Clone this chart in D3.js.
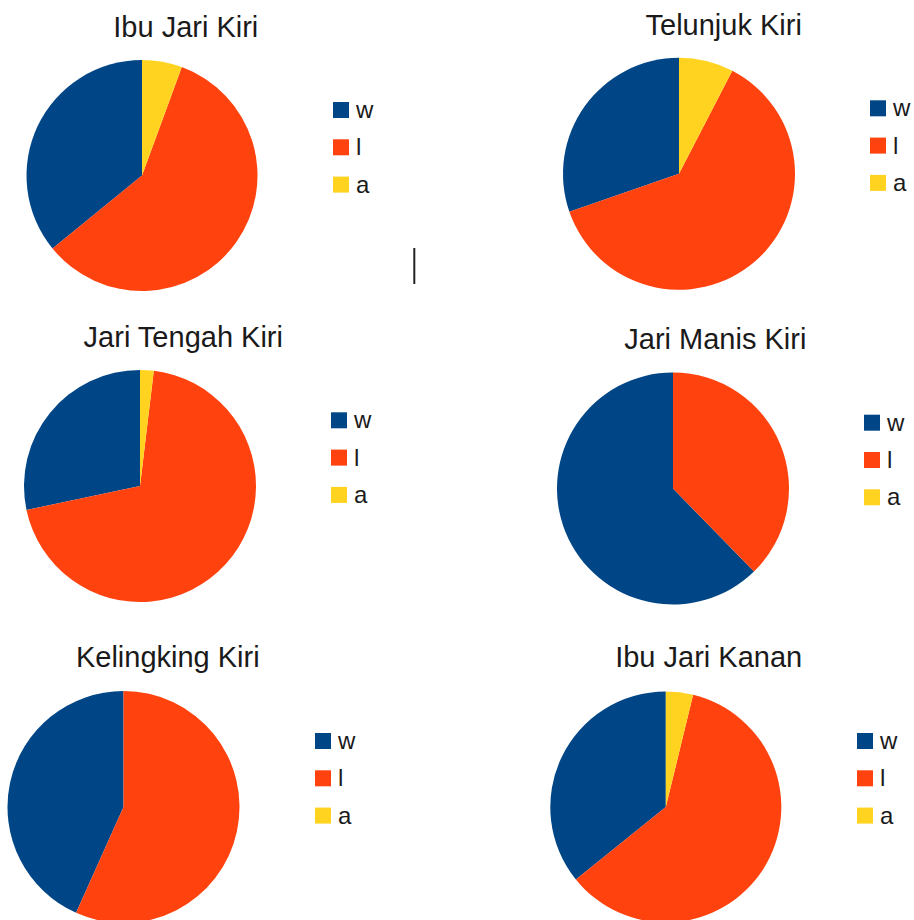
<!DOCTYPE html>
<html>
<head>
<meta charset="utf-8">
<script src="https://cdn.jsdelivr.net/npm/d3@7"></script>
<style>
  body { margin: 0; background: #fff; }
  text { font-family: "Liberation Sans", Arial, sans-serif; }
</style>
</head>
<body>
<div id="chart"></div>
<script>
// chart data
const titles = ["Ibu Jari Kiri", "Telunjuk Kiri", "Jari Tengah Kiri", "Jari Manis Kiri", "Kelingking Kiri", "Ibu Jari Kanan"];
const series = ["w", "l", "a"];
const wValues = [35.9, 30.3, 28.3, 62.3, 43.3, 35.8];
const lValues = [58.5, 62.1, 69.8, 37.7, 56.7, 60.4];
const aValues = [5.6, 7.6, 1.9, 0, 0, 3.8];

const colors = {w: "#004586", l: "#ff420e", a: "#ffd320"};

// where each panel sits on the page
const panels = [
    {cx: 142, cy: 175.5, r: 115.5, tx: 185.8, ty: 37, lx: 333, ly: 110},
    {cx: 679, cy: 173.8, r: 116, tx: 723.7, ty: 35, lx: 870, ly: 108.3},
    {cx: 140, cy: 486, r: 116, tx: 183.3, ty: 347.3, lx: 331, ly: 420.3},
    {cx: 673, cy: 488.5, r: 116, tx: 715.3, ty: 349.3, lx: 864, ly: 422.7},
    {cx: 123.5, cy: 807, r: 116, tx: 167.8, ty: 667.3, lx: 315, ly: 741},
    {cx: 665.8, cy: 807, r: 115.5, tx: 708.7, ty: 667.3, lx: 857, ly: 741}
];

const width = 914, height = 920;
const rowGap = 37.3;

const svg = d3.select("#chart")
    .append("svg")
        .attr("width", width)
        .attr("height", height);

// counter-clockwise from 12 o'clock, like the office chart
const pie = d3.pie()
    .sort(null)
    .startAngle(0)
    .endAngle(-2 * Math.PI)
    .value(d => d.value);

titles.forEach((title, i) => {
    const p = panels[i];
    const values = [wValues[i], lValues[i], aValues[i]];
    const data = series.map((s, k) => ({key: s, value: values[k]}));

    const g = svg.append("g");

    const arc = d3.arc().innerRadius(0).outerRadius(p.r);

    g.append("g")
        .attr("transform", `translate(${p.cx},${p.cy})`)
        .selectAll("path")
        .data(pie(data).filter(d => d.data.value > 0))
        .enter().append("path")
            .attr("d", arc)
            .attr("fill", d => colors[d.data.key]);

    g.append("text")
        .attr("x", p.tx)
        .attr("y", p.ty)
        .attr("text-anchor", "middle")
        .style("font-size", "29px")
        .attr("fill", "#1a1a1a")
        .text(title);

    // legend
    const legend = g.selectAll(".legend")
        .data(series)
        .enter().append("g")
            .attr("class", "legend")
            .attr("transform", (d, k) => `translate(${p.lx},${p.ly + k * rowGap})`);

    legend.append("rect")
        .attr("x", 0)
        .attr("y", -8)
        .attr("width", 16)
        .attr("height", 16)
        .attr("fill", d => colors[d]);

    legend.append("text")
        .attr("x", 23)
        .attr("y", 8)
        .style("font-size", "24px")
        .attr("fill", "#1a1a1a")
        .text(d => d);
});

// stray text cursor in the original screenshot
svg.append("line")
    .attr("x1", 414.3).attr("x2", 414.3)
    .attr("y1", 248).attr("y2", 284)
    .attr("stroke", "#222")
    .attr("stroke-width", 2);
</script>
</body>
</html>
